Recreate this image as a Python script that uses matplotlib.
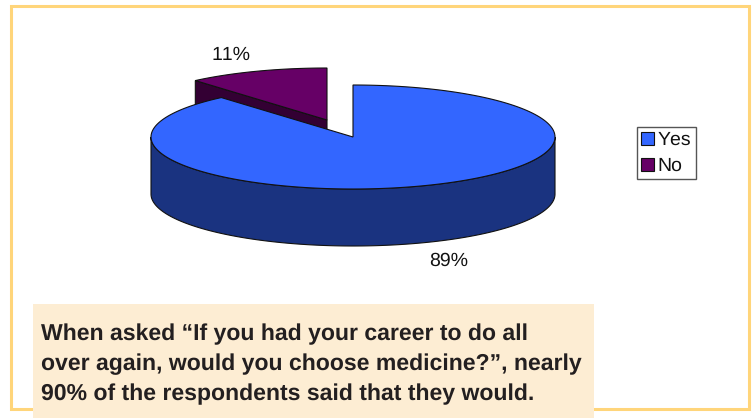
import matplotlib.pyplot as plt
from matplotlib.patches import Polygon, Rectangle
import numpy as np

categories = ["Yes", "No"]
shares = [88.7, 11.3]
top_colors = ["#3366FF", "#660066"]
side_colors = ["#1A3380", "#330033"]
caption = ("When asked \u201cIf you had your career to do all\n"
           "over again, would you choose medicine?\u201d, nearly\n"
           "90% of the respondents said that they would.")

plt.rcParams["font.family"] = ["Liberation Sans", "DejaVu Sans"]
plt.rcParams["text.kerning_factor"] = 6
plt.rcParams["text.hinting"] = "no_hinting"

# 饼图几何参数（像素坐标）
cx, cy = 353, 137
rx, ry = 202, 52
depth = 57
no_dx, no_dy = -26, -17
edge = "#111111"


def arc(t0, t1, dx=0, dy=0, n=200):
    # 角度从正上方顺时针计算
    t = np.radians(np.linspace(t0, t1, n))
    return np.column_stack([cx + dx + rx * np.sin(t), cy + dy - ry * np.cos(t)])


fig = plt.figure(figsize=(7.53, 4.18), dpi=100)
ax = fig.add_axes([0, 0, 1, 1])
ax.set_xlim(0, 753)
ax.set_ylim(418, 0)
ax.axis("off")

# 外框
ax.add_patch(Rectangle((11, 6), 738, 403, fill=False, ec="#FFD57A", lw=2.2, zorder=1))

yes_end = 360 * shares[0] / sum(shares)

# No 扇形：先画切面，再画顶面
no_arc = arc(yes_end, 360, no_dx, no_dy)
no_center = np.array([cx + no_dx, cy + no_dy])
no_face = [no_center, no_arc[0], no_arc[0] + [0, depth], no_center + [0, depth]]
ax.add_patch(Polygon(no_face, fc=side_colors[1], ec=edge, lw=0.8, zorder=2))
ax.add_patch(Polygon(np.vstack([no_center, no_arc]), fc=top_colors[1], ec=edge, lw=0.8, zorder=3))

# Yes 扇形：侧面在下半部分
front = arc(90, 270)
side = np.vstack([front, (front + [0, depth])[::-1]])
ax.add_patch(Polygon(side, fc=side_colors[0], ec=edge, lw=0.8, zorder=4))
yes_arc = arc(0, yes_end)
ax.add_patch(Polygon(np.vstack([[cx, cy], yes_arc]), fc=top_colors[0], ec=edge, lw=0.8, zorder=5))

# 百分比标签
ax.text(231, 55, f"{shares[1]:.0f}%", fontsize=14, ha="center", va="center", color="#111111")
ax.text(449, 261, f"{shares[0]:.0f}%", fontsize=14, ha="center", va="center", color="#111111")

# 图例
handles = [Rectangle((0, 0), 1, 1, fc=c, ec="#111111", lw=0.8) for c in top_colors]
leg = ax.legend(handles, categories, loc="upper left", bbox_to_anchor=(637, 127),
                bbox_transform=ax.transData, fontsize=14, handlelength=0.65, handleheight=0.65,
                handletextpad=0.2, labelspacing=0.42, borderpad=0.22, borderaxespad=0,
                fancybox=False, framealpha=1, edgecolor="#555555", labelcolor="#111111")
leg.get_frame().set_linewidth(1.0)
leg.set_zorder(6)

# 说明文字
ax.add_patch(Rectangle((33, 304), 561, 114, fc="#FDEDD3", ec="none", zorder=7))
ax.text(41, 364, caption, fontsize=16.6, fontweight="bold", color="#231F20", ha="left", va="center",
        linespacing=1.5, zorder=8)

fig.savefig("out.png", dpi=100)
